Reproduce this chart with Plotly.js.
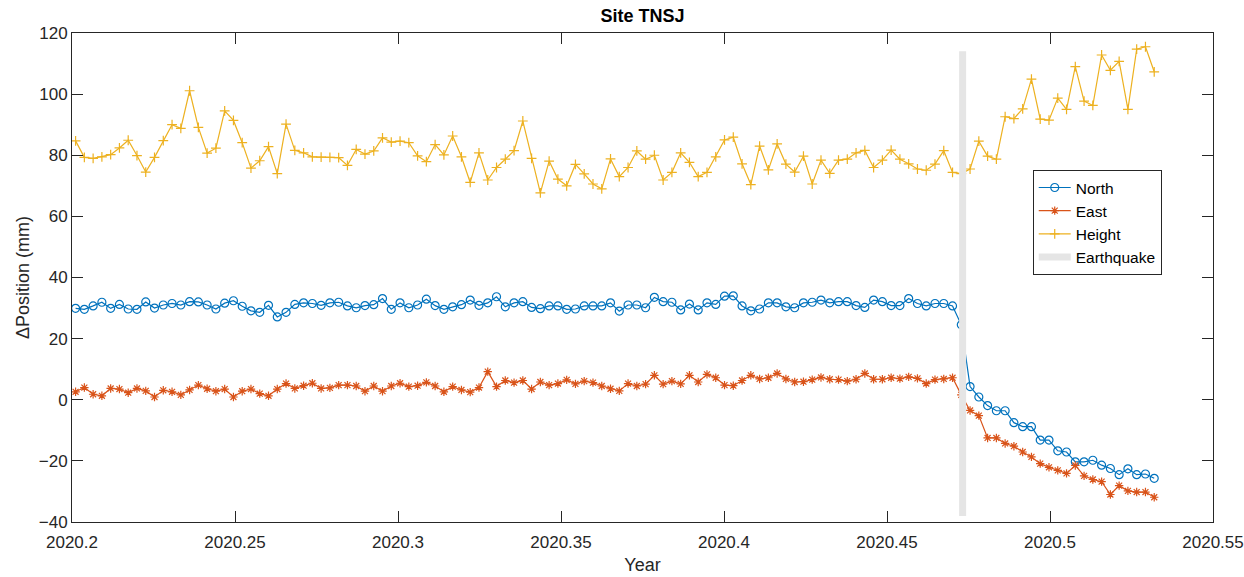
<!DOCTYPE html>
<html>
<head>
<meta charset="utf-8">
<script src="https://cdn.plot.ly/plotly-3.0.1.min.js"></script>
<style>html,body{margin:0;padding:0;background:#fff;}#chart{width:1244px;height:577px;}</style>
</head>
<body>
<div id="chart"></div>
<script>
// Daily solution epochs (decimal year)
const startYear = 2020.2011;
const stepYear = 0.00269;
const earthquakeYear = 2020.4732;
const earthquakeSpan = [-38, 114];

const north = [
  29.9, 29.6, 30.7, 31.9, 29.9, 31.2, 29.7, 29.6, 32.0, 30.0, 31.0, 31.5, 31.0, 32.1, 32.0, 31.0, 29.7, 31.6, 32.4, 30.6, 29.1,
  28.6, 30.9, 27.1, 28.6, 31.2, 31.7, 31.5, 30.9, 31.7, 31.9, 30.7, 30.1, 30.8, 31.1, 33.1, 29.6, 31.7, 30.1, 31.0, 32.9, 30.8,
  29.6, 30.4, 31.1, 32.6, 30.9, 31.7, 33.7, 30.4, 31.7, 32.1, 30.2, 29.8, 30.7, 30.7, 29.6, 29.7, 30.7, 30.7, 30.7, 31.7, 29.0,
  31.0, 31.0, 30.1, 33.5, 32.1, 31.9, 29.4, 31.3, 29.4, 31.7, 31.2, 33.9, 34.0, 30.7, 29.1, 29.7, 31.7, 31.7, 30.4, 30.1, 31.7,
  31.9, 32.6, 31.7, 32.1, 32.1, 30.8, 30.2, 32.6, 32.1, 30.8, 30.8, 33.1, 31.5, 30.7, 31.5, 31.5, 30.7, 24.5,
  4.3, 0.9, -1.9, -3.6, -3.6, -7.5, -8.8, -8.8, -13.2, -13.2, -16.7, -17.1, -20.3, -20.3, -19.8, -21.4, -22.5, -24.5, -22.6, -24.5, -24.3, -25.7
];
const east = [
  2.6, 4.0, 1.8, 1.3, 3.7, 3.5, 2.3, 3.7, 2.9, 0.9, 3.1, 2.6, 1.6, 3.2, 4.8, 3.6, 2.8, 3.5, 0.9, 2.8, 3.5,
  2.0, 1.3, 3.5, 5.3, 3.7, 4.6, 5.4, 3.7, 3.9, 4.8, 4.8, 4.5, 2.8, 4.5, 2.8, 4.5, 5.4, 4.3, 4.6, 5.7, 4.5,
  2.6, 4.3, 3.2, 2.5, 4.0, 9.2, 4.3, 6.3, 5.6, 6.3, 3.5, 5.8, 4.8, 5.3, 6.5, 5.2, 6.1, 5.6, 4.5, 3.6, 2.9,
  5.3, 4.5, 5.1, 8.0, 5.1, 6.1, 5.2, 8.0, 5.8, 8.3, 7.2, 4.8, 4.6, 6.3, 8.0, 6.8, 7.2, 8.6, 6.8, 5.8, 5.9,
  6.6, 7.3, 6.7, 6.6, 6.1, 6.7, 8.6, 6.7, 6.7, 7.2, 6.9, 7.5, 7.0, 5.3, 6.6, 6.8, 7.2, 1.6,
  -3.5, -5.2, -12.5, -12.5, -14.3, -15.2, -17.1, -18.7, -20.9, -22.1, -23.1, -24.1, -21.5, -24.9, -26.1, -26.8, -31.0, -28.1, -29.8, -30.2, -30.2, -31.9
];
const height = [
  84.7, 79.3, 79.0, 79.5, 80.2, 82.4, 84.9, 79.9, 74.5, 79.3, 84.8, 90.0, 88.8, 101.1, 89.1, 80.7, 82.3, 94.5, 91.4, 84.1, 75.8,
  78.2, 82.8, 74.0, 90.2, 81.6, 80.8, 79.5, 79.4, 79.3, 79.2, 76.7, 81.9, 80.4, 81.4, 85.7, 84.3, 84.6, 84.1, 79.8, 77.9, 83.5,
  80.1, 86.3, 79.5, 71.1, 80.8, 71.9, 76.0, 78.7, 81.5, 91.2, 79.0, 67.7, 78.1, 72.2, 70.0, 77.0, 73.9, 70.6, 69.0, 78.8, 73.0,
  76.0, 81.4, 78.7, 80.0, 71.9, 74.4, 80.8, 77.7, 73.0, 74.4, 79.5, 85.0, 85.9, 77.2, 70.4, 83.0, 75.2, 83.7, 77.1, 74.5, 79.7,
  70.6, 78.4, 74.1, 78.4, 78.7, 80.8, 81.6, 76.0, 78.4, 81.7, 78.7, 77.2, 75.5, 75.1, 77.1, 81.5, 74.4, 74.0,
  75.5, 84.6, 79.7, 78.7, 92.6, 92.0, 95.2, 104.9, 91.8, 91.5, 98.7, 95.0, 109.0, 97.7, 96.3, 112.8, 107.8, 110.7, 95.0, 114.7, 115.5, 107.3
];
const xTickVals = [2020.2, 2020.25, 2020.3, 2020.35, 2020.4, 2020.45, 2020.5, 2020.55];
const xTickText = ['2020.2', '2020.25', '2020.3', '2020.35', '2020.4', '2020.45', '2020.5', '2020.55'];
const yTickVals = [-40, -20, 0, 20, 40, 60, 80, 100, 120];

const years = north.map((_, i) => startYear + i * stepYear);

const font = 'Liberation Sans, Arial, Helvetica, sans-serif';
const traces = [
  {x: years, y: north, name: 'North', type: 'scatter', mode: 'lines+markers',
   line: {color: '#0072BD', width: 1.2},
   marker: {symbol: 'circle-open', size: 8, color: '#0072BD', line: {width: 1.2, color: '#0072BD'}}},
  {x: years, y: east, name: 'East', type: 'scatter', mode: 'lines+markers',
   line: {color: '#D95319', width: 1.2},
   marker: {symbol: 'asterisk-open', size: 7, color: '#D95319', line: {width: 1.2, color: '#D95319'}}},
  {x: years, y: height, name: 'Height', type: 'scatter', mode: 'lines+markers',
   line: {color: '#EDB120', width: 1.2},
   marker: {symbol: 'cross-thin-open', size: 7, color: '#EDB120', line: {width: 1.2, color: '#EDB120'}}},
  {x: [earthquakeYear, earthquakeYear], y: earthquakeSpan, name: 'Earthquake', type: 'scatter', mode: 'lines',
   line: {color: '#E5E5E5', width: 7}}
];

const axisCommon = {
  showgrid: false, zeroline: false, showline: true, mirror: 'ticks',
  linecolor: '#262626', linewidth: 1, ticks: 'inside', ticklen: 11, tickwidth: 1, tickcolor: '#262626',
  tickfont: {family: font, size: 17, color: '#262626'}
};

const layout = {
  width: 1244, height: 577,
  margin: {l: 72, r: 31, t: 33, b: 55},
  paper_bgcolor: '#fff', plot_bgcolor: '#fff',
  font: {family: font, color: '#262626'},
  title: {text: '<b>Site TNSJ</b>', font: {family: font, size: 18, color: '#000'}, x: 0.5, xref: 'paper', y: 0.972, yanchor: 'middle'},
  xaxis: Object.assign({}, axisCommon, {
    range: [2020.2, 2020.55], tickmode: 'array', tickvals: xTickVals, ticktext: xTickText,
    ticklabelstandoff: 5,
    title: {text: 'Year', font: {family: font, size: 18, color: '#262626'}, standoff: 6}
  }),
  yaxis: Object.assign({}, axisCommon, {
    range: [-40, 120], tickmode: 'array', tickvals: yTickVals,
    title: {text: '\u0394Position (mm)', font: {family: font, size: 18, color: '#262626'}, standoff: 4}
  }),
  legend: {
    x: 0.842, y: 0.72, xanchor: 'left', yanchor: 'top',
    bgcolor: '#fff', bordercolor: '#262626', borderwidth: 1,
    font: {family: font, size: 15.5, color: '#000'}, tracegroupgap: 0, itemwidth: 32
  },
  showlegend: true
};

Plotly.newPlot('chart', traces, layout, {displayModeBar: false, staticPlot: true});
</script>
</body>
</html>
